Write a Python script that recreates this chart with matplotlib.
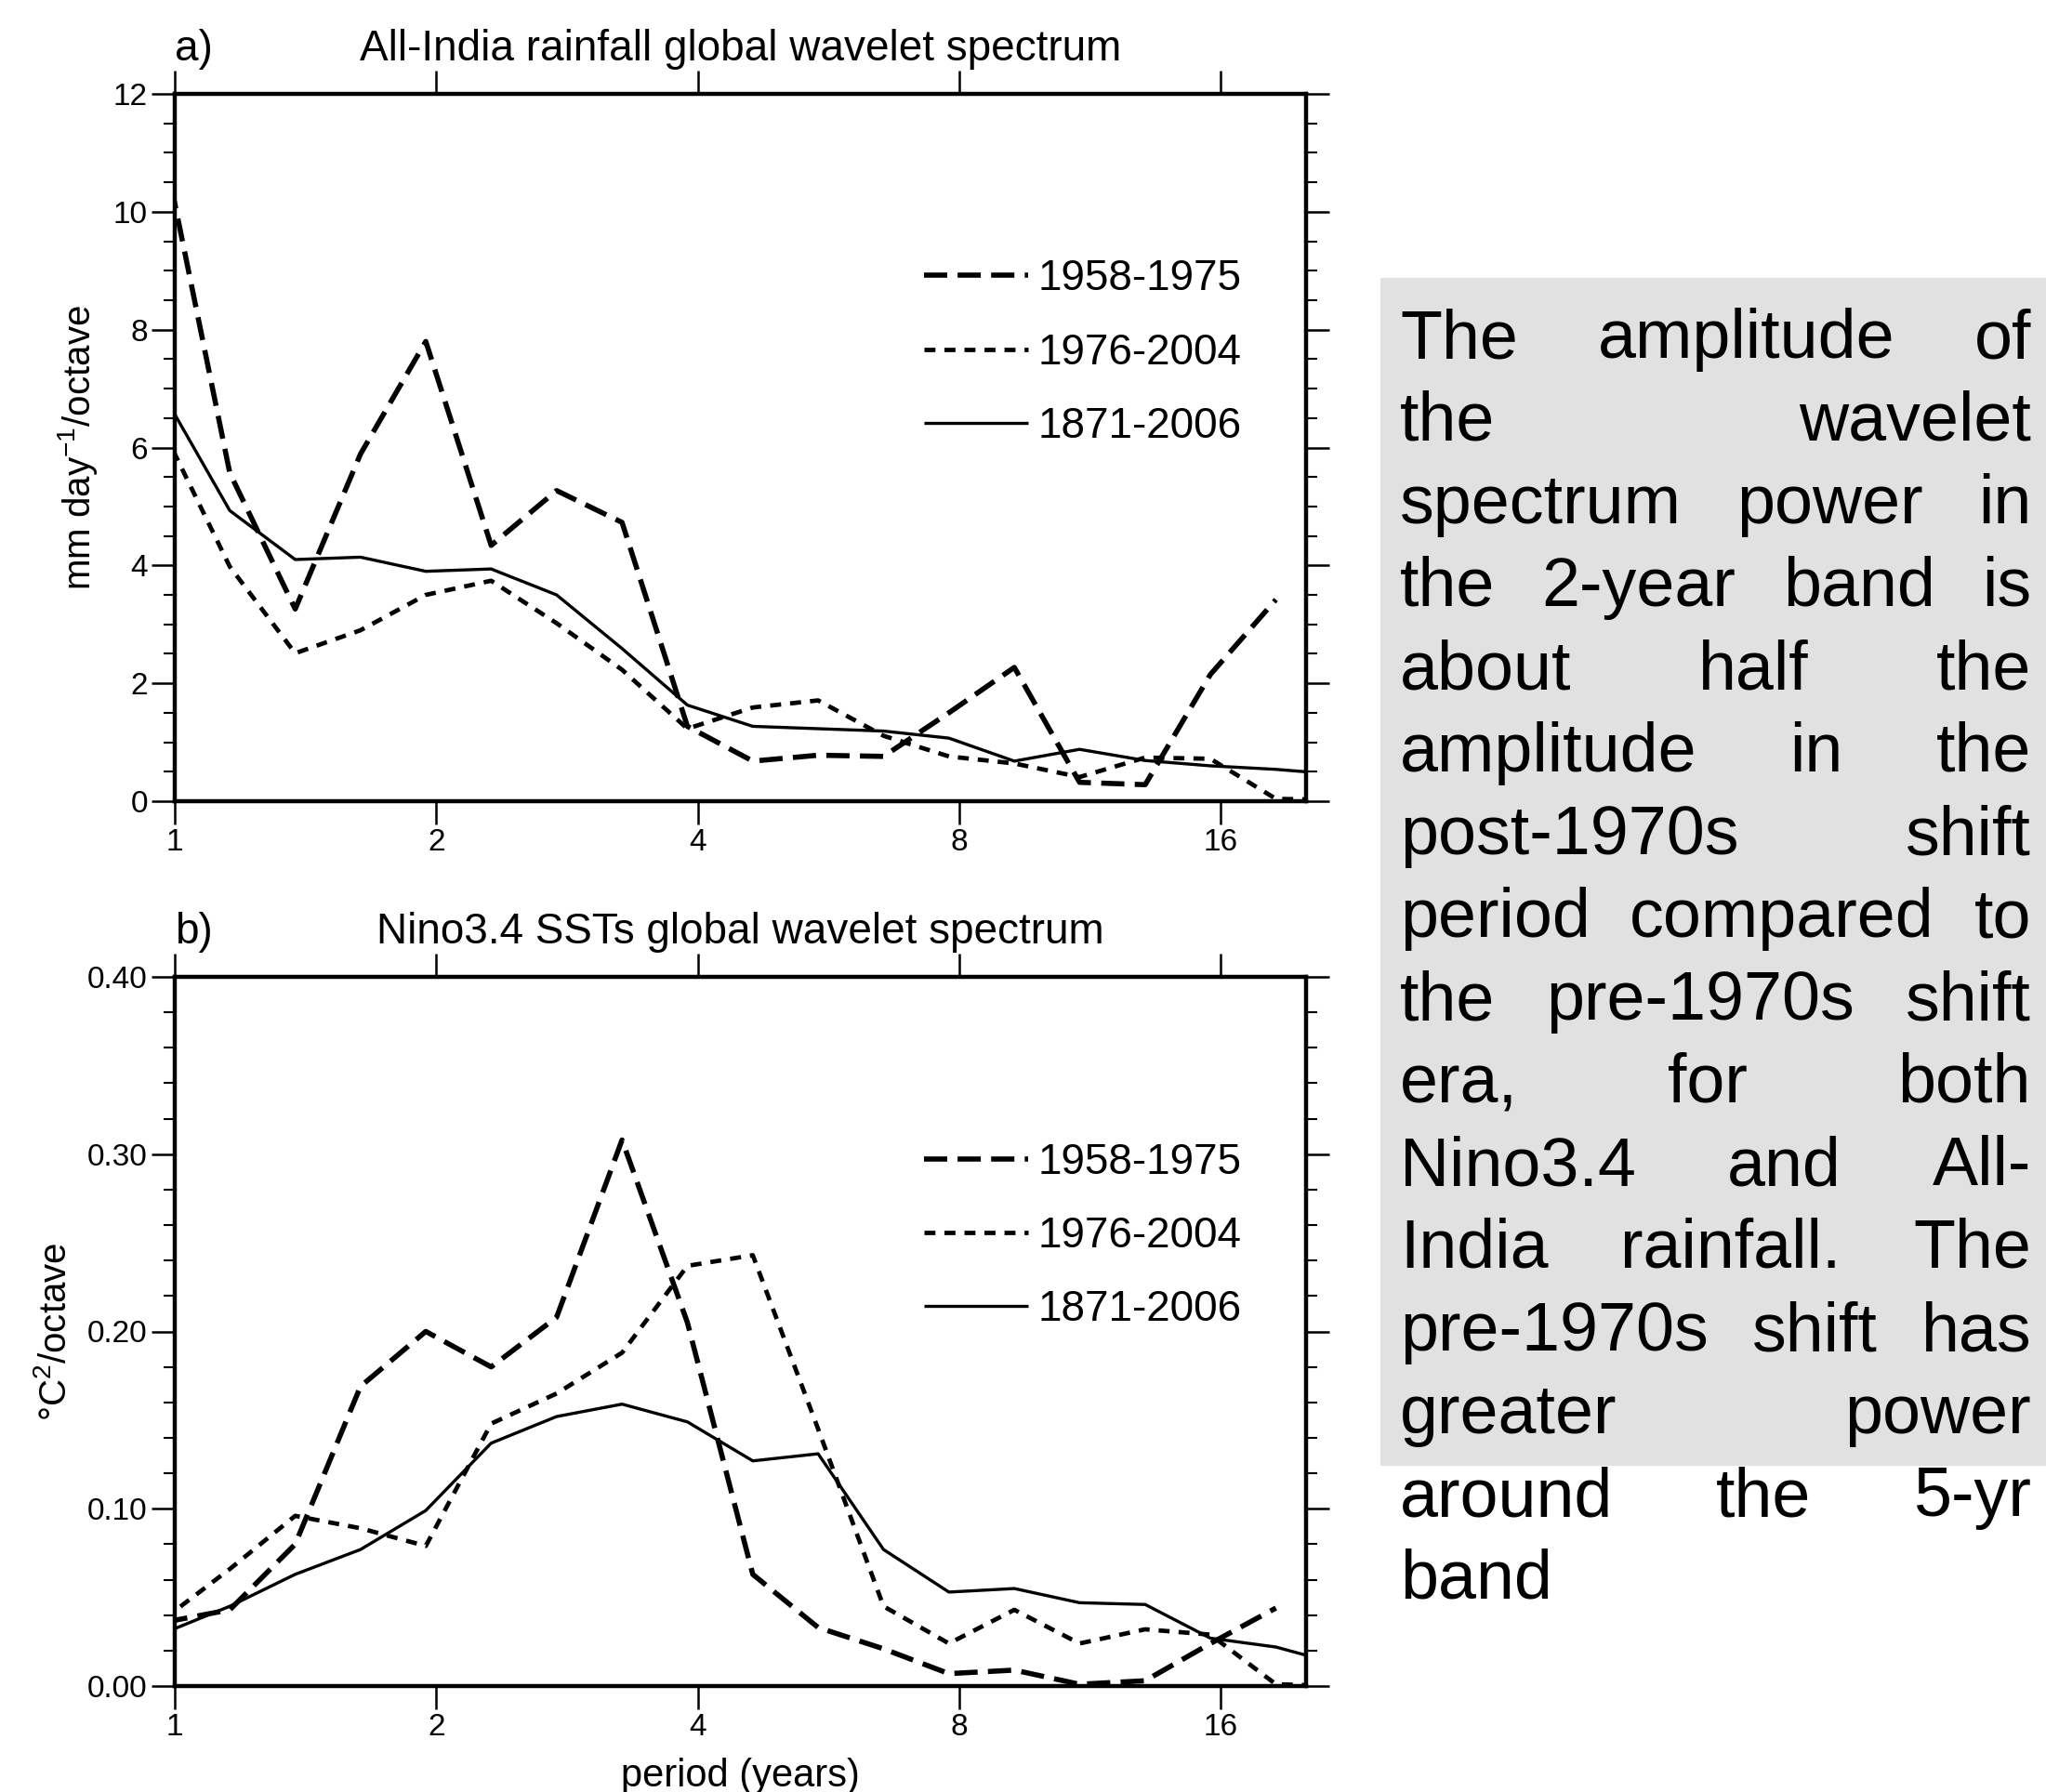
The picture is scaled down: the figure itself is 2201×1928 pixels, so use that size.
import matplotlib
matplotlib.use("Agg")
import matplotlib.pyplot as plt
from matplotlib.patches import Rectangle
from matplotlib.ticker import MultipleLocator, FixedLocator, NullLocator, FuncFormatter

plt.rcParams['font.family'] = ['Liberation Sans', 'DejaVu Sans']
plt.rcParams['mathtext.default'] = 'regular'
plt.rcParams['lines.scale_dashes'] = False

# wavelet scales (period in years), quarter-octave grid
periods = [0.973, 1.157, 1.376, 1.636, 1.945, 2.313, 2.751, 3.272, 3.891, 4.627,
           5.502, 6.543, 7.781, 9.254, 11.00, 13.09, 15.56, 18.51, 22.01]

# a) All-India rainfall
rain_1958_1975 = [11.0, 5.57, 3.26, 5.89, 7.80, 4.34, 5.27, 4.73, 1.27, 0.68,
                  0.78, 0.76, 1.50, 2.27, 0.32, 0.28, 2.15, 3.42]
rain_1976_2004 = [6.25, 3.98, 2.51, 2.90, 3.50, 3.74, 3.02, 2.23, 1.23, 1.59,
                  1.71, 1.11, 0.76, 0.64, 0.41, 0.74, 0.72, 0.04, 0.02]
rain_1871_2006 = [6.87, 4.93, 4.10, 4.14, 3.90, 3.94, 3.50, 2.59, 1.63, 1.27,
                  1.23, 1.19, 1.07, 0.68, 0.88, 0.69, 0.60, 0.54, 0.45]

# b) Nino3.4 SSTs
sst_1958_1975 = [0.036, 0.043, 0.080, 0.169, 0.200, 0.180, 0.208, 0.308, 0.205, 0.063,
                 0.033, 0.021, 0.007, 0.009, 0.001, 0.003, 0.024, 0.044]
sst_1976_2004 = [0.038, 0.066, 0.096, 0.089, 0.079, 0.148, 0.165, 0.188, 0.237, 0.243,
                 0.145, 0.045, 0.024, 0.043, 0.024, 0.032, 0.029, 0.001, 0.0]
sst_1871_2006 = [0.030, 0.045, 0.063, 0.077, 0.099, 0.137, 0.152, 0.159, 0.149, 0.127,
                 0.131, 0.077, 0.053, 0.055, 0.047, 0.046, 0.027, 0.022, 0.012]

xticks = [1, 2, 4, 8, 16]
series_labels = ["1958-1975", "1976-2004", "1871-2006"]

text_lines = ["The amplitude of", "the wavelet", "spectrum power in",
              "the 2-year band is", "about half the", "amplitude in the",
              "post-1970s shift", "period compared to", "the pre-1970s shift",
              "era, for both", "Nino3.4 and All-", "India rainfall. The",
              "pre-1970s shift has", "greater power", "around the 5-yr", "band"]

W, H, DPI = 2201, 1928, 100

DASHED = dict(ls=(0, (18, 8)), lw=4.0, color='black')
DOTTED = dict(ls=(0, (8.5, 7)), lw=3.4, color='black')
SOLID = dict(ls='-', lw=2.4, color='black')


def panel(ax, ys, ymax, major, minor, fmt, tag, title, ylabel):
    for y, st, lab in zip(ys, (DASHED, DOTTED, SOLID), series_labels):
        ax.plot(periods[:len(y)], y, label=lab, solid_capstyle='butt',
                dash_capstyle='butt', **st)
    ax.set_xscale('log', base=2)
    ax.set_xlim(1, 20.05)
    ax.set_ylim(0, ymax)
    ax.xaxis.set_major_locator(FixedLocator(xticks))
    ax.xaxis.set_major_formatter(FuncFormatter(lambda v, p: f"{v:g}"))
    ax.xaxis.set_minor_locator(NullLocator())
    ax.yaxis.set_major_locator(MultipleLocator(major))
    ax.yaxis.set_minor_locator(MultipleLocator(minor))
    ax.yaxis.set_major_formatter(FuncFormatter(lambda v, p: fmt % v))
    ax.tick_params(which='both', direction='out', top=True, right=True,
                   labeltop=False, labelright=False, labelsize=24)
    ax.tick_params(which='major', length=18, width=1.8, pad=3)
    ax.tick_params(which='minor', length=8.6, width=1.5)
    for s in ax.spines.values():
        s.set_linewidth(3.2)
    ax.annotate(title, xy=(0.5, 1), xycoords='axes fraction', xytext=(0, 26),
                textcoords='offset points', ha='center', va='baseline', fontsize=33)
    ax.annotate(tag, xy=(0, 1), xycoords='axes fraction', xytext=(0, 26),
                textcoords='offset points', ha='left', va='baseline', fontsize=33)
    ax.set_ylabel(ylabel, fontsize=29, labelpad=11)
    ax.legend(loc='upper left', bbox_to_anchor=(0.662, 0.767), frameon=False,
              fontsize=33, handlelength=2.45, handletextpad=0.22,
              labelspacing=0.77, borderpad=0, borderaxespad=0)


def justified(fig, lines, x0, x1, y0, pitch, size):
    r = fig.canvas.get_renderer()
    for k, line in enumerate(lines):
        y = 1 - (y0 + pitch * k) / H
        words = line.split()
        arts = [fig.text(0, y, w, fontsize=size, va='baseline', ha='left') for w in words]
        widths = [a.get_window_extent(r).width for a in arts]
        if len(words) > 1 and k < len(lines) - 1:
            gap = (x1 - x0 - sum(widths)) / (len(words) - 1)
        else:
            gap = 0.28 * size * DPI / 72
        x = x0
        for a, w in zip(arts, widths):
            a.set_x(x / W)
            x += w + gap


def main():
    fig = plt.figure(figsize=(W / DPI, H / DPI), dpi=DPI)
    ax1 = fig.add_axes([188 / W, 1 - 862 / H, (1405 - 188) / W, (862 - 101) / H])
    ax2 = fig.add_axes([188 / W, 1 - 1814 / H, (1405 - 188) / W, (1814 - 1051) / H])

    panel(ax1, [rain_1958_1975, rain_1976_2004, rain_1871_2006], 12, 2, 0.5, "%g",
          "a)", "All-India rainfall global wavelet spectrum", "mm day$^{-1}$/octave")
    panel(ax2, [sst_1958_1975, sst_1976_2004, sst_1871_2006], 0.40, 0.10, 0.02, "%.2f",
          "b)", "Nino3.4 SSTs global wavelet spectrum", "°C$^{2}$/octave")
    ax2.set_xlabel("period (years)", fontsize=30, labelpad=12)

    fig.add_artist(Rectangle((1485 / W, 1 - 1577 / H), (W - 1485) / W, (1577 - 299) / H,
                             transform=fig.transFigure, facecolor='#e1e1e1',
                             edgecolor='none', zorder=0))
    justified(fig, text_lines, 1506, 2185, 385, 89, 53)

    fig.savefig("out.png", dpi=DPI)


if __name__ == '__main__':
    main()
